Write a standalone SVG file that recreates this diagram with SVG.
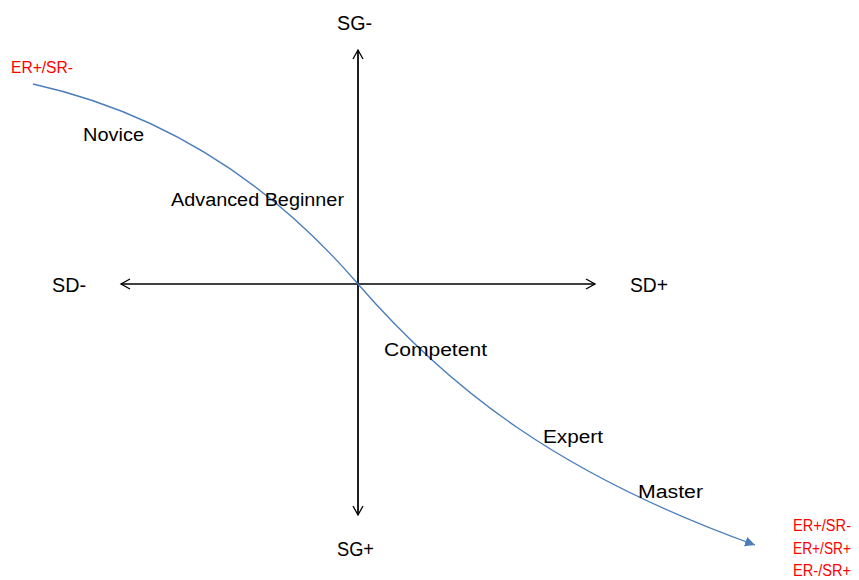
<svg xmlns="http://www.w3.org/2000/svg" width="859" height="580" viewBox="0 0 859 580">
<style>
.lbl{font-family:"Liberation Sans",Arial,sans-serif;font-size:18px;fill:#000}
.ax{font-family:"Liberation Sans",Arial,sans-serif;font-size:20px;fill:#000}
.red{font-family:"Liberation Sans",Arial,sans-serif;font-size:16px;fill:#ff0000}
.axis{stroke:#000;stroke-width:1.3;fill:none}
.curve{stroke:#4a7ebb;stroke-width:1.3;fill:none}
</style>
<defs>
<marker id="open" markerWidth="12" markerHeight="12" refX="10" refY="6" orient="auto" markerUnits="userSpaceOnUse">
<path d="M1,1 L10,6 L1,11" fill="none" stroke="#000" stroke-width="1.3"/>
</marker>
<marker id="blue" markerWidth="12" markerHeight="10" refX="10" refY="5" orient="auto" markerUnits="userSpaceOnUse">
<path d="M0,0 L10,5 L0,10 Z" fill="#4a7ebb"/>
</marker>
</defs>
<g id="connectors">
<line class="axis" x1="358" y1="515" x2="358" y2="50" marker-end="url(#open)"/>
<line class="axis" x1="358" y1="50" x2="358" y2="515" marker-end="url(#open)"/>
<line class="axis" x1="358" y1="284" x2="121" y2="284" marker-end="url(#open)"/>
<line class="axis" x1="358" y1="284" x2="595" y2="284" marker-end="url(#open)"/>
<path class="curve" d="M33,84 C150,110 260,170 358,284 C450,390 560,475 755,545" marker-end="url(#blue)"/>
</g>
<g id="sg-minus"><text class="ax" x="337" y="30" textLength="35" lengthAdjust="spacingAndGlyphs">SG-</text></g>
<g id="sg-plus"><text class="ax" x="337" y="556" textLength="37" lengthAdjust="spacingAndGlyphs">SG+</text></g>
<g id="sd-minus"><text class="ax" x="52" y="292" textLength="34" lengthAdjust="spacingAndGlyphs">SD-</text></g>
<g id="sd-plus"><text class="ax" x="630" y="292" textLength="38" lengthAdjust="spacingAndGlyphs">SD+</text></g>
<g id="novice"><text class="lbl" x="83" y="141" textLength="61" lengthAdjust="spacingAndGlyphs">Novice</text></g>
<g id="advanced-beginner"><text class="lbl" x="171" y="206" textLength="173" lengthAdjust="spacingAndGlyphs">Advanced Beginner</text></g>
<g id="competent"><text class="lbl" x="384" y="356" textLength="103" lengthAdjust="spacingAndGlyphs">Competent</text></g>
<g id="expert"><text class="lbl" x="543" y="443" textLength="60" lengthAdjust="spacingAndGlyphs">Expert</text></g>
<g id="master"><text class="lbl" x="638" y="498" textLength="65" lengthAdjust="spacingAndGlyphs">Master</text></g>
<g id="start-label"><text class="red" x="11" y="73" textLength="62" lengthAdjust="spacingAndGlyphs">ER+/SR-</text></g>
<g id="end-labels">
<text class="red" x="793" y="531" textLength="58" lengthAdjust="spacingAndGlyphs">ER+/SR-</text>
<text class="red" x="793" y="554" textLength="58" lengthAdjust="spacingAndGlyphs">ER+/SR+</text>
<text class="red" x="793" y="576" textLength="58" lengthAdjust="spacingAndGlyphs">ER-/SR+</text>
</g>
</svg>
